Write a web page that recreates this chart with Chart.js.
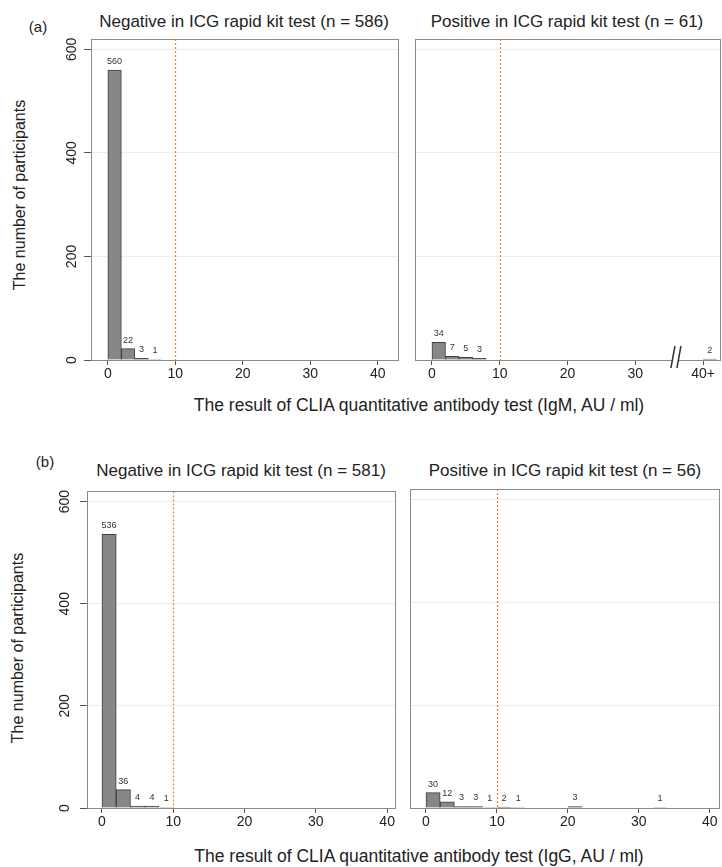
<!DOCTYPE html>
<html lang="en">
<head>
  <meta charset="UTF-8" />
  <title>ICG rapid kit test vs CLIA antibody test</title>
  <script src="https://cdn.jsdelivr.net/npm/chart.js"></script>
  <style>
    body { margin: 0; background: #fff; }
    #fig { position: relative; width: 722px; height: 867px; font-family: "Liberation Sans", Arial, sans-serif; color: #222; }
    #fig canvas { position: absolute; }
    .txt { position: absolute; white-space: nowrap; font-size: 17px; transform: translate(-50%, -50%); }
    .xtitle { font-size: 17.5px; }
    .ytitle { font-size: 16px; transform: translate(-50%, -50%) rotate(-90deg); }
  </style>
</head>
<body>
<div id="fig">
  <div class="txt" style="left:38px; top:26px; font-size:15px;">(a)</div>
  <div class="txt" style="left:244px; top:22px;">Negative in ICG rapid kit test (n = 586)</div>
  <div class="txt" style="left:567px; top:22px;">Positive in ICG rapid kit test (n = 61)</div>
  <div class="txt ytitle" style="left:20px; top:195px;">The number of participants</div>
  <div class="txt xtitle" style="left:419px; top:405px;">The result of CLIA quantitative antibody test (IgM, AU / ml)</div>

  <div class="txt" style="left:45px; top:461px; font-size:15px;">(b)</div>
  <div class="txt" style="left:241px; top:471px;">Negative in ICG rapid kit test (n = 581)</div>
  <div class="txt" style="left:565px; top:471px;">Positive in ICG rapid kit test (n = 56)</div>
  <div class="txt ytitle" style="left:18px; top:648px;">The number of participants</div>
  <div class="txt xtitle" style="left:419px; top:856px;">The result of CLIA quantitative antibody test (IgG, AU / ml)</div>

  <canvas id="aNeg" width="400" height="365" style="left:0; top:30px;"></canvas>
  <canvas id="aPos" width="322" height="365" style="left:400px; top:30px;"></canvas>
  <canvas id="bNeg" width="400" height="363" style="left:0; top:480px;"></canvas>
  <canvas id="bPos" width="322" height="363" style="left:400px; top:480px;"></canvas>
</div>

<script>
// histogram bins are 2 AU/ml wide, x = bin centre
const binCentres_aNeg = [1, 3, 5, 7];
const counts_aNeg = [560, 22, 3, 1];
const binCentres_aPos = [1, 3, 5, 7, 41];   // 41 = the "40+" bin after the axis break
const counts_aPos = [34, 7, 5, 3, 2];
const binCentres_bNeg = [1, 3, 5, 7, 9];
const counts_bNeg = [536, 36, 4, 4, 1];
const binCentres_bPos = [1, 3, 5, 7, 9, 11, 13, 21, 33];
const counts_bPos = [30, 12, 3, 3, 1, 2, 1, 3, 1];

const xTickValues = [0, 10, 20, 30, 40];
const xTickLabels = ['0', '10', '20', '30', '40'];
const xTickLabels_aPos = ['0', '10', '20', '30', '40+'];
const yTickValues = [0, 200, 400, 600];
const cutoff = 10;       // dotted orange line
const axisBreakAt = 36;  // "//" on the IgM positive panel

const FONT = '"Liberation Sans", Arial, sans-serif';

// box, cut-off line, count labels, axis break
const panelDecor = {
  id: 'panelDecor',
  beforeDatasetsDraw(chart) {
    const { ctx, chartArea: a, scales: { x } } = chart;
    const px = Math.round(x.getPixelForValue(cutoff)) + 0.5;
    ctx.save();
    ctx.strokeStyle = '#ef8427';
    ctx.lineWidth = 1.2;
    ctx.setLineDash([2, 2]);
    ctx.beginPath();
    ctx.moveTo(px, a.top);
    ctx.lineTo(px, a.bottom);
    ctx.stroke();
    ctx.restore();
  },
  afterDatasetsDraw(chart, args, opts) {
    const { ctx, chartArea: a, scales: { x } } = chart;
    ctx.save();
    ctx.strokeStyle = '#8a8a8a';
    ctx.lineWidth = 1;
    ctx.strokeRect(Math.round(a.left) + 0.5, Math.round(a.top) + 0.5,
                   Math.round(a.right - a.left), Math.round(a.bottom - a.top));

    const meta = chart.getDatasetMeta(0);
    const vals = chart.data.datasets[0].data;
    ctx.fillStyle = '#333';
    ctx.font = '9px ' + FONT;
    ctx.textAlign = 'center';
    ctx.textBaseline = 'bottom';
    meta.data.forEach((bar, i) => {
      ctx.fillText(String(vals[i].y), bar.x, bar.y - 4);
    });

    if (opts.breakAt != null) {
      const bx = x.getPixelForValue(opts.breakAt);
      const by = a.bottom;
      ctx.fillStyle = '#fff';
      ctx.fillRect(bx - 3, by - 2, 6, 4);
      ctx.strokeStyle = '#333';
      ctx.lineWidth = 1.5;
      [-3, 3].forEach(d => {
        ctx.beginPath();
        ctx.moveTo(bx + d - 2, by + 8);
        ctx.lineTo(bx + d + 2, by - 14);
        ctx.stroke();
      });
    }
    ctx.restore();
  }
};

function makePanel(id, p) {
  new Chart(document.getElementById(id), {
    type: 'bar',
    data: {
      datasets: [{
        data: p.xs.map((v, i) => ({ x: v, y: p.ys[i] })),
        backgroundColor: '#878787',
        borderColor: '#3f3f3f',
        borderWidth: 1,
        barPercentage: 1,
        categoryPercentage: 1
      }]
    },
    options: {
      responsive: false,
      animation: false,
      events: [],
      layout: { autoPadding: false, padding: p.pad },
      plugins: {
        legend: { display: false },
        tooltip: { enabled: false },
        panelDecor: { breakAt: p.breakAt }
      },
      scales: {
        x: {
          type: 'linear',
          min: p.xMin,
          max: p.xMax,
          offset: false,
          border: { display: false },
          grid: { offset: false, drawOnChartArea: false, drawTicks: true, tickLength: 5, tickColor: '#555' },
          afterBuildTicks: s => { s.ticks = xTickValues.map(v => ({ value: v })); },
          ticks: {
            padding: 1,
            color: '#222',
            font: { family: FONT, size: 14 },
            maxRotation: 0,
            callback: v => p.tickLabels[xTickValues.indexOf(v)]
          },
          afterFit: s => { s.height = 35; }
        },
        y: {
          min: 0,
          max: 620,
          border: { display: false },
          grid: { color: '#ececec', drawTicks: p.showY, tickLength: 7, tickColor: '#555' },
          afterBuildTicks: s => { s.ticks = yTickValues.map(v => ({ value: v })); },
          ticks: {
            display: p.showY,
            minRotation: 90,
            maxRotation: 90,
            crossAlign: 'center',
            padding: p.yPad,
            color: '#222',
            font: { family: FONT, size: 14 }
          },
          afterFit: s => { s.width = p.yWidth; }
        }
      }
    },
    plugins: [panelDecor]
  });
}

makePanel('aNeg', { xs: binCentres_aNeg, ys: counts_aNeg, xMin: -2.5, xMax: 43, tickLabels: xTickLabels,
  showY: true, yWidth: 91, yPad: 0, pad: { top: 9, right: 2, bottom: 0, left: 0 } });
makePanel('aPos', { xs: binCentres_aPos, ys: counts_aPos, xMin: -2.5, xMax: 42.5, tickLabels: xTickLabels_aPos,
  showY: false, yWidth: 15, yPad: 0, breakAt: axisBreakAt, pad: { top: 9, right: 2, bottom: 0, left: 0 } });
makePanel('bNeg', { xs: binCentres_bNeg, ys: counts_bNeg, xMin: -2.1, xMax: 41.1, tickLabels: xTickLabels,
  showY: true, yWidth: 87, yPad: 3, pad: { top: 9, right: 5, bottom: 0, left: 0 } });
makePanel('bPos', { xs: binCentres_bPos, ys: counts_bPos, xMin: -2.25, xMax: 41.3, tickLabels: xTickLabels,
  showY: false, yWidth: 10, yPad: 0, pad: { top: 9, right: 3, bottom: 0, left: 0 } });
</script>
</body>
</html>
